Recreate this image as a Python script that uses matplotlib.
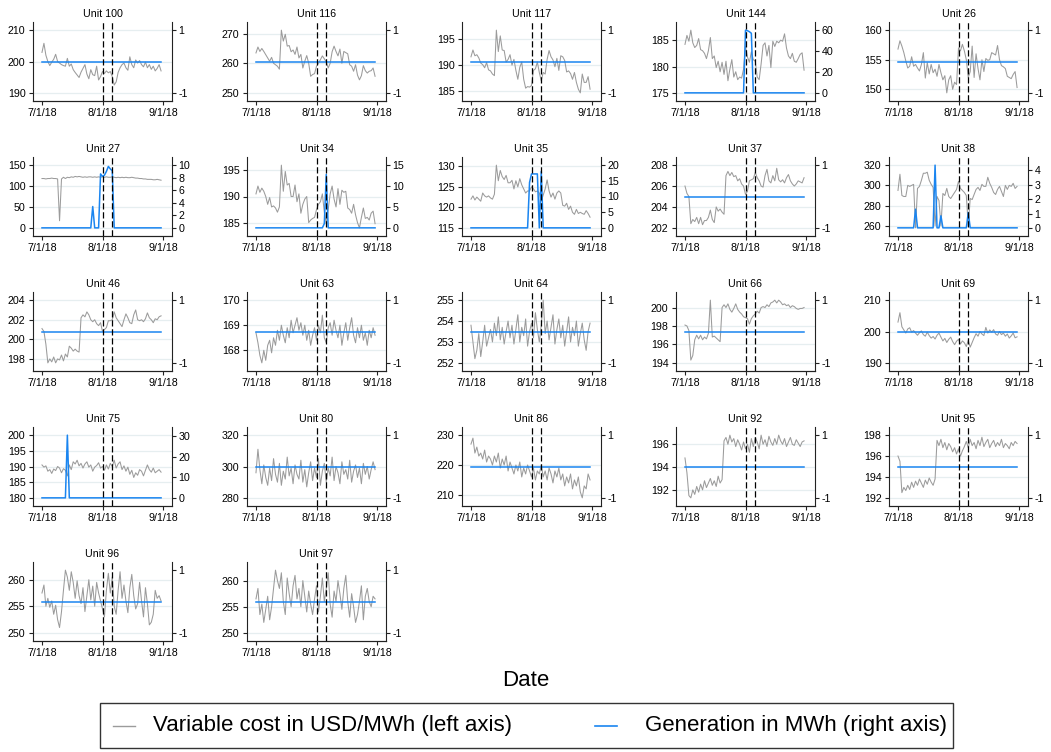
import numpy as np
import pandas as pd
import matplotlib
matplotlib.use("Agg")
import matplotlib.pyplot as plt
from matplotlib.lines import Line2D
from matplotlib.patches import Rectangle

plt.rcParams['font.family'] = ['Liberation Sans', 'DejaVu Sans']
plt.rcParams['axes.unicode_minus'] = False

# fechas y eventos
start = pd.Timestamp('2018-07-01')
event_dates = [pd.Timestamp('2018-08-01'), pd.Timestamp('2018-08-06')]
xtick_dates = [pd.Timestamp('2018-07-01'), pd.Timestamp('2018-08-01'), pd.Timestamp('2018-09-01')]
xtick_labels = ['7/1/18', '8/1/18', '9/1/18']

units = ['100', '116', '117', '144', '26', '27', '34', '35', '37', '38',
         '46', '63', '64', '66', '69', '75', '80', '86', '92', '95', '96', '97']

# costo variable (USD/MWh), un valor por dia del 7/1 al 8/31
cost_100 = [202.9, 205.8, 202.0, 200.0, 198.7, 199.8, 200.7, 202.3, 200.0, 199.5, 199.0, 198.7, 198.5, 201.0, 198.5, 199.2, 197.4, 196.5, 195.7, 194.9, 196.6, 197.8, 199.0, 196.0, 194.5, 197.4, 195.8, 195.5, 198.5, 194.1, 195.2, 196.8, 196.2, 197.0, 196.4, 196.8, 195.2, 192.5, 193.5, 196.5, 198.0, 199.0, 199.5, 198.0, 197.2, 201.5, 199.0, 198.0, 200.5, 199.5, 200.3, 199.0, 198.3, 199.8, 198.0, 199.0, 197.5, 198.5, 197.0, 197.8, 199.0, 197.0]
cost_116 = [263.5, 265.5, 264.0, 265.0, 264.0, 262.9, 261.8, 260.7, 262.0, 260.0, 259.5, 259.0, 258.0, 271.2, 267.5, 269.8, 265.8, 266.0, 263.9, 264.5, 263.0, 265.5, 261.8, 263.0, 258.4, 260.7, 262.6, 260.0, 255.6, 256.2, 256.5, 259.0, 260.0, 261.2, 262.5, 261.5, 260.5, 258.4, 260.0, 263.9, 265.8, 264.0, 262.5, 264.8, 260.0, 264.0, 263.6, 263.2, 259.5, 259.0, 257.3, 259.5, 256.0, 254.4, 255.8, 259.2, 257.5, 256.7, 257.3, 257.5, 258.4, 255.6]
cost_117 = [191.5, 192.8, 191.7, 191.9, 191.3, 190.3, 190.0, 189.4, 190.4, 189.0, 188.8, 188.2, 187.9, 196.6, 192.5, 195.5, 192.8, 192.7, 190.5, 191.0, 191.9, 189.9, 191.0, 188.9, 187.2, 189.5, 190.5, 187.2, 185.5, 185.8, 185.7, 186.0, 188.9, 189.2, 190.5, 188.5, 186.9, 188.5, 188.2, 191.0, 192.7, 191.5, 190.9, 189.6, 191.2, 188.9, 191.7, 191.5, 190.8, 188.6, 188.8, 188.3, 187.2, 188.5, 186.6, 185.3, 184.6, 188.2, 186.6, 186.6, 187.7, 185.3]
cost_144 = [184.2, 185.9, 184.8, 186.9, 184.5, 183.6, 184.0, 185.3, 183.2, 183.0, 182.5, 181.5, 183.0, 185.5, 181.5, 182.0, 179.8, 181.0, 179.0, 180.8, 178.5, 181.0, 177.3, 179.5, 181.3, 178.0, 179.0, 177.5, 178.0, 177.8, 179.5, 183.8, 181.8, 180.8, 182.8, 181.3, 181.0, 178.0, 177.5, 180.5, 184.0, 184.5, 182.0, 184.0, 179.8, 184.8, 183.8, 184.8, 184.5, 185.0, 184.8, 186.2, 183.5, 182.0, 181.5, 182.5, 181.0, 180.8, 181.5, 182.3, 182.6, 179.3]
cost_26 = [156.8, 158.2, 157.3, 156.2, 154.8, 153.6, 153.9, 155.5, 153.9, 154.2, 153.6, 153.1, 154.2, 156.2, 151.9, 154.5, 152.6, 154.2, 152.8, 153.4, 152.2, 154.2, 152.8, 151.6, 152.3, 149.4, 151.6, 152.3, 150.0, 151.2, 150.8, 157.0, 156.5, 157.6, 156.5, 155.0, 152.0, 153.0, 157.3, 152.0, 156.0, 153.5, 151.6, 155.0, 153.0, 155.2, 154.9, 155.0, 156.2, 156.0, 155.8, 157.4, 155.0, 154.0, 153.8, 153.5, 152.2, 152.0, 151.8, 152.5, 153.0, 150.3]
cost_27 = [118, 118, 117, 118, 118, 119, 118, 118, 117, 17, 117, 121, 118, 121, 120, 122, 121, 123, 122, 123, 122, 121, 122, 121, 122, 122, 121, 122, 121, 122, 121, 122, 121, 122, 121, 121, 122, 121, 120, 121, 120, 121, 120, 121, 120, 120, 121, 120, 119, 119, 118, 118, 117, 117, 116, 116, 116, 115, 115, 116, 115, 114]
cost_34 = [190.5, 192.0, 190.8, 191.6, 191.0, 190.0, 188.5, 189.8, 188.0, 188.2, 187.8, 187.0, 188.0, 196.0, 191.0, 194.8, 192.2, 192.5, 190.0, 190.0, 192.2, 189.0, 190.5, 186.8, 188.5, 189.5, 190.0, 185.0, 185.5, 185.8, 186.0, 187.5, 188.5, 189.0, 190.5, 187.0, 184.8, 187.5, 190.5, 192.0, 189.5, 188.0, 191.5, 188.5, 191.2, 190.8, 191.0, 187.8, 187.5, 186.8, 188.5, 186.5, 185.0, 184.0, 186.0, 187.8, 185.8, 186.0, 185.5, 186.8, 187.2, 184.8]
cost_35 = [122.0, 122.8, 121.8, 122.5, 122.0, 121.5, 123.5, 122.8, 122.5, 122.8, 122.3, 122.0, 123.2, 130.3, 126.5, 129.0, 127.5, 126.8, 127.8, 126.0, 126.0, 126.6, 124.5, 126.5, 125.0, 127.0, 125.5, 124.5, 123.5, 124.0, 124.0, 125.0, 124.5, 123.8, 124.0, 123.5, 121.5, 123.0, 124.5, 126.7, 124.0, 122.5, 123.5, 122.0, 123.5, 124.0, 123.5, 120.5, 120.3, 121.0, 119.5, 120.3, 118.8, 118.3, 119.5, 118.5, 118.8, 118.5, 118.3, 119.2, 118.5, 117.6]
cost_37 = [206.0, 205.3, 205.0, 202.4, 202.8, 202.6, 203.0, 202.4, 203.0, 202.3, 202.7, 202.7, 203.0, 203.7, 202.8, 202.5, 204.0, 203.6, 203.8, 203.5, 203.3, 207.0, 207.4, 207.0, 207.3, 206.9, 207.0, 206.5, 206.7, 206.2, 206.0, 205.2, 205.5, 206.5, 206.6, 206.7, 207.3, 206.8, 206.5, 206.0, 205.9, 207.0, 207.6, 206.5, 206.3, 207.0, 206.5, 207.7, 206.6, 206.4, 206.6, 206.3, 206.8, 207.1, 206.5, 206.2, 206.0, 206.2, 206.5, 206.4, 206.3, 206.8]
cost_38 = [295, 311, 290, 289, 289, 300, 299, 300, 301, 258, 297, 299, 305, 312, 312, 313, 305, 301, 298, 260, 289, 285, 260, 292, 290, 297, 289, 287, 290, 293, 296, 304, 297, 295, 293, 290, 260, 287, 286, 291, 296, 298, 295, 301, 299, 299, 308, 302, 298, 293, 291, 296, 299, 294, 289, 300, 296, 300, 299, 302, 297, 299]
cost_46 = [201.1, 200.8, 199.5, 197.6, 198.0, 197.7, 198.2, 197.6, 198.0, 197.9, 198.4, 197.8, 198.5, 198.2, 199.3, 199.1, 198.8, 199.0, 198.8, 198.7, 202.2, 202.5, 202.3, 202.8, 202.5, 202.0, 201.8, 202.0, 201.6, 201.4, 201.7, 200.8, 201.0, 201.2, 201.9, 201.9, 202.0, 202.8, 202.2, 201.9, 201.6, 201.3, 202.0, 202.6, 202.2, 201.7, 201.6, 202.5, 203.0, 202.0, 201.9, 202.0, 201.8, 202.1, 202.7, 202.2, 202.0, 201.7, 202.1, 202.0, 202.3, 202.4]
cost_63 = [168.7, 168.3, 167.8, 167.5, 168.0, 167.6, 168.2, 168.4, 167.9, 168.5, 168.2, 168.8, 168.4, 169.0, 168.6, 168.3, 168.9, 168.5, 169.2, 168.7, 169.0, 169.3, 168.8, 169.1, 168.6, 169.0, 168.4, 168.8, 168.2, 168.6, 168.9, 168.4, 169.0, 168.7, 169.4, 168.5, 168.3, 168.9, 169.1, 168.6, 169.2, 168.8, 168.5, 169.0, 168.2, 168.7, 169.1, 168.4, 168.9, 169.3, 168.6, 168.3, 168.9, 168.5, 169.0, 168.4, 168.7, 168.2, 168.8, 168.5, 168.9, 168.6]
cost_64 = [253.8, 253.0, 252.2, 252.6, 253.4, 252.3, 253.0, 253.8, 252.8, 253.2, 253.6, 253.0, 253.9, 253.3, 254.2, 253.1, 253.7, 252.9, 253.5, 254.0, 253.2, 253.8, 252.9, 253.6, 254.3, 253.0, 253.7, 253.3, 254.1, 252.8, 253.5, 253.9, 253.2, 254.4, 253.6, 253.0, 253.8, 255.0, 253.4, 254.0, 253.1, 253.7, 254.3, 252.9, 253.6, 254.1, 253.2, 253.8, 252.8, 253.5, 254.2, 253.0, 253.7, 253.3, 254.0, 252.8, 253.4, 253.9, 253.1, 252.6, 253.5, 253.9]
cost_66 = [198.1, 198.0, 197.5, 194.3, 194.8, 196.5, 197.0, 196.6, 197.0, 196.5, 196.8, 196.6, 197.2, 200.8, 196.8, 196.9, 196.7, 196.5, 196.3, 200.0, 200.3, 200.0, 200.4, 199.8, 199.5, 199.9, 200.4, 199.8, 199.5, 199.3, 199.0, 198.9, 198.8, 198.2, 198.8, 199.1, 199.3, 199.6, 199.4, 200.0, 200.1, 200.0, 200.3, 200.1, 200.5, 200.6, 200.8, 200.5, 200.8, 200.6, 200.3, 200.4, 200.2, 200.3, 200.0, 200.2, 200.1, 199.9, 199.8, 199.9, 199.9, 200.0]
cost_69 = [203.0, 206.0, 201.5, 200.5, 199.5, 200.8, 201.2, 199.8, 200.3, 199.5, 198.8, 199.6, 200.2, 199.0, 198.5, 199.8, 198.7, 197.9, 198.4, 197.6, 198.8, 199.5, 198.2, 197.0, 197.8, 196.5, 197.5, 198.2, 196.8, 195.8, 196.9, 197.5, 196.0, 197.0, 196.4, 195.2, 197.2, 195.0, 196.5, 198.0, 199.3, 198.5, 200.0, 199.2, 198.7, 201.3, 199.5, 200.5, 199.8, 200.6, 199.2, 198.8, 200.0, 199.0, 199.5, 198.5, 199.2, 197.9, 198.6, 199.5, 198.0, 198.3]
cost_75 = [190.5, 189.8, 190.2, 188.5, 189.0, 187.8, 189.2, 188.7, 190.0, 189.5, 188.0, 189.3, 188.8, 187.0, 190.5, 189.0, 191.5, 190.8, 192.0, 190.2, 191.0, 189.5, 190.8, 191.5, 189.8, 190.5, 188.5, 189.8, 190.3, 191.2, 189.5, 190.0, 188.8, 190.5, 189.2, 191.0, 190.0, 192.0, 189.5, 190.8, 191.5, 189.0, 190.2, 188.5, 189.8, 187.5, 188.8, 186.5, 188.0, 187.2, 189.0, 188.5, 187.0, 188.8, 190.5, 189.0, 188.2, 189.5, 188.0, 188.5, 189.0, 188.2]
cost_80 = [296, 311, 298, 289, 301, 293, 288, 299, 291, 305, 295, 290, 302, 288, 297, 292, 306, 294, 299, 289, 301, 295, 292, 304, 290, 298, 287, 296, 303, 291, 299, 293, 305, 288, 297, 302, 290, 299, 294, 306, 291, 300, 296, 289, 303, 295, 298, 292, 304, 290, 297, 301, 293, 299, 289, 302, 295, 300, 292, 298, 303, 298]
cost_86 = [227, 229, 224, 226, 223, 224, 222, 225, 221, 223, 222, 220, 223, 221, 224, 219, 222, 220, 223, 218, 221, 219, 217, 220, 218, 221, 216, 219, 217, 220, 218, 216, 219, 215, 218, 217, 220, 216, 218, 215, 219, 217, 214, 218, 216, 219, 215, 217, 213, 216, 214, 217, 212, 215, 213, 216, 211, 209, 213, 212, 217, 215]
cost_92 = [194.8, 193.5, 191.5, 191.3, 192.0, 191.6, 192.3, 191.8, 192.5, 192.0, 192.8, 192.2, 192.6, 193.0, 192.4, 192.8, 192.3, 193.2, 192.6, 192.9, 196.3, 196.6, 196.0, 196.8, 196.2, 196.5, 195.8, 196.4, 196.0, 195.5, 196.2, 195.6, 196.0, 195.3, 196.5, 195.8, 196.6, 196.2, 195.6, 196.8, 196.0, 196.4, 195.8, 196.7, 196.2, 195.9, 196.5, 196.0, 196.8, 196.3, 196.0, 196.5, 195.8, 196.2, 196.6, 196.0, 195.9, 196.4, 196.1, 195.8, 196.2, 196.3]
cost_95 = [196.0, 195.5, 192.5, 193.0, 192.7, 193.2, 192.8, 193.5, 193.0, 193.6, 193.2, 193.8, 193.4, 193.0, 193.7, 193.3, 193.9, 193.5, 193.2, 193.8, 197.5, 197.0, 197.6, 196.8, 197.3, 196.6, 197.2, 196.9, 196.4, 196.8, 196.2, 196.7, 196.0, 196.5, 196.9, 197.4, 196.8, 197.6, 197.0, 197.3, 196.7, 197.5, 197.0, 197.8, 196.9, 197.3, 197.6, 196.8, 197.2, 197.5, 196.9, 197.3, 197.0, 197.6, 196.8, 197.2, 197.0, 196.7, 197.3, 197.0, 197.4, 197.2]
cost_96 = [257.5, 259.0, 255.0, 256.5, 254.8, 256.0, 253.5, 255.2, 252.5, 251.0, 254.0, 258.0, 261.8, 260.5, 258.0, 261.5, 259.5, 256.5, 259.8, 257.0, 255.5, 258.5, 254.0, 257.0, 260.0, 256.2, 258.8, 255.0, 259.5, 257.5, 256.0, 254.5, 253.0, 258.0, 261.2, 257.5, 260.5, 255.0, 253.5, 258.0, 261.5, 256.5, 259.0, 256.0, 253.8, 258.5, 261.0, 257.0, 254.5, 255.5, 259.5, 256.0, 253.0, 258.5, 255.5, 251.5, 252.0, 253.5, 258.0, 256.5, 257.0, 256.0]
cost_97 = [256.5, 258.5, 253.5, 255.5, 252.0, 254.5, 257.0, 252.5, 255.0, 258.5, 262.0, 260.0, 258.5, 261.5, 256.0, 253.5, 260.5, 257.5, 255.0, 259.0, 261.0, 256.5, 258.5, 255.0, 260.0, 257.0, 254.0, 258.0, 255.5, 253.5, 256.5, 259.0, 254.0, 257.0, 260.5, 256.0, 258.5, 261.5, 255.5, 253.0, 258.0, 256.0, 260.0, 257.5, 254.5, 258.5, 261.0, 256.0, 253.0, 257.5, 255.0, 252.0, 253.5, 256.0, 259.0, 252.5, 257.0, 258.5, 256.0, 255.0, 257.0, 256.5]

# generacion (MWh)
gen_zero = [0, 0, 0, 0, 0, 0, 0, 0, 0, 0, 0, 0, 0, 0, 0, 0, 0, 0, 0, 0, 0, 0, 0, 0, 0, 0, 0, 0, 0, 0, 0, 0, 0, 0, 0, 0, 0, 0, 0, 0, 0, 0, 0, 0, 0, 0, 0, 0, 0, 0, 0, 0, 0, 0, 0, 0, 0, 0, 0, 0, 0, 0]
gen_144 = [0, 0, 0, 0, 0, 0, 0, 0, 0, 0, 0, 0, 0, 0, 0, 0, 0, 0, 0, 0, 0, 0, 0, 0, 0, 0, 0, 0, 0, 0, 0, 60, 59.5, 58.5, 57, 0, 0, 0, 0, 0, 0, 0, 0, 0, 0, 0, 0, 0, 0, 0, 0, 0, 0, 0, 0, 0, 0, 0, 0, 0, 0, 0]
gen_27 = [0, 0, 0, 0, 0, 0, 0, 0, 0, 0, 0, 0, 0, 0, 0, 0, 0, 0, 0, 0, 0, 0, 0, 0, 0, 0, 3.4, 0, 0, 0, 8.6, 8.2, 8.4, 9.0, 9.8, 9.4, 9.1, 0, 0, 0, 0, 0, 0, 0, 0, 0, 0, 0, 0, 0, 0, 0, 0, 0, 0, 0, 0, 0, 0, 0, 0, 0]
gen_34 = [0, 0, 0, 0, 0, 0, 0, 0, 0, 0, 0, 0, 0, 0, 0, 0, 0, 0, 0, 0, 0, 0, 0, 0, 0, 0, 0, 0, 0, 0, 0, 0, 0, 0, 0, 1.0, 12.8, 0, 0, 0, 0, 0, 0, 0, 0, 0, 0, 0, 0, 0, 0, 0, 0, 0, 0, 0, 0, 0, 0, 0, 0, 0]
gen_35 = [0, 0, 0, 0, 0, 0, 0, 0, 0, 0, 0, 0, 0, 0, 0, 0, 0, 0, 0, 0, 0, 0, 0, 0, 0, 0, 0, 0, 0, 0, 14.5, 17.2, 17.2, 17.2, 17.2, 0, 18.0, 0, 0, 0, 0, 0, 0, 0, 0, 0, 0, 0, 0, 0, 0, 0, 0, 0, 0, 0, 0, 0, 0, 0, 0, 0]
gen_38 = [0, 0, 0, 0, 0, 0, 0, 0, 0, 1.3, 0, 0, 0, 0, 0, 0, 0, 0, 0, 4.37, 0, 0, 0.84, 0, 0, 0, 0, 0, 0, 0, 0, 0, 0, 0, 0, 0, 1.07, 0, 0, 0, 0, 0, 0, 0, 0, 0, 0, 0, 0, 0, 0, 0, 0, 0, 0, 0, 0, 0, 0, 0, 0, 0]
gen_75 = [0, 0, 0, 0, 0, 0, 0, 0, 0, 0, 0, 0, 0, 30.5, 0, 0, 0, 0, 0, 0, 0, 0, 0, 0, 0, 0, 0, 0, 0, 0, 0, 0, 0, 0, 0, 0, 0, 0, 0, 0, 0, 0, 0, 0, 0, 0, 0, 0, 0, 0, 0, 0, 0, 0, 0, 0, 0, 0, 0, 0, 0, 0]

# marcas de los ejes
left_ticks = {
    '100': [190, 200, 210], '116': [250, 260, 270], '117': [185, 190, 195],
    '144': [175, 180, 185], '26': [150, 155, 160], '27': [0, 50, 100, 150],
    '34': [185, 190, 195], '35': [115, 120, 125, 130], '37': [202, 204, 206, 208],
    '38': [260, 280, 300, 320], '46': [198, 200, 202, 204], '63': [168, 169, 170],
    '64': [252, 253, 254, 255], '66': [194, 196, 198, 200], '69': [190, 200, 210],
    '75': [180, 185, 190, 195, 200], '80': [280, 300, 320], '86': [210, 220, 230],
    '92': [192, 194, 196], '95': [192, 194, 196, 198], '96': [250, 255, 260],
    '97': [250, 255, 260],
}
right_ticks = {'144': [0, 20, 40, 60], '27': [0, 2, 4, 6, 8, 10], '34': [0, 5, 10, 15],
               '35': [0, 5, 10, 15, 20], '38': [0, 1, 2, 3, 4], '75': [0, 10, 20, 30]}

costs = {'100': cost_100, '116': cost_116, '117': cost_117, '144': cost_144, '26': cost_26,
         '27': cost_27, '34': cost_34, '35': cost_35, '37': cost_37, '38': cost_38,
         '46': cost_46, '63': cost_63, '64': cost_64, '66': cost_66, '69': cost_69,
         '75': cost_75, '80': cost_80, '86': cost_86, '92': cost_92, '95': cost_95,
         '96': cost_96, '97': cost_97}
gens = {'144': gen_144, '27': gen_27, '34': gen_34, '35': gen_35, '38': gen_38, '75': gen_75}

GRAY = '#9b9b9b'
BLUE = '#1a85f0'
GRID = '#e6eef0'
W, H = 1051, 752

fig = plt.figure(figsize=(W / 100, H / 100), dpi=100)

col_x = [33, 247, 462, 676, 889]
row_y = [22, 157, 292, 427, 562]
ax_w, ax_h = 139, 79


def padded(vals, ticks, pad=0.13):
    lo = min(min(vals), min(ticks))
    hi = max(max(vals), max(ticks))
    r = hi - lo
    return lo - pad * r, hi + pad * r


for i, u in enumerate(units):
    r, c = divmod(i, 5)
    x0, y0 = col_x[c], row_y[r]
    ax = fig.add_axes([x0 / W, 1 - (y0 + ax_h) / H, ax_w / W, ax_h / H])
    ax2 = ax.twinx()

    cost = costs[u]
    gen = gens.get(u, gen_zero)
    dates = pd.date_range(start, periods=len(cost), freq='D')
    gdates = pd.date_range(start, periods=len(gen), freq='D')

    lt = left_ticks[u]
    rt = right_ticks.get(u, [-1, 1])

    ax.plot(dates, cost, color=GRAY, lw=0.75, zorder=3)
    ax.set_ylim(*padded(cost, lt))
    ax.set_yticks(lt)
    for t in lt:
        ax.axhline(t, color=GRID, lw=0.9, zorder=1)

    ax2.plot(gdates, gen, color=BLUE, lw=1.1, zorder=3)
    ax2.set_ylim(*padded(gen, rt))
    ax2.set_yticks(rt)
    for d in event_dates:
        ax2.axvline(d, color='black', lw=0.9, dashes=(5, 2.2), zorder=5)

    ax.set_xlim(start - pd.Timedelta(days=4.6), xtick_dates[-1] + pd.Timedelta(days=4.6))
    ax.set_xticks(xtick_dates)
    ax.set_xticklabels(xtick_labels)

    for a in (ax, ax2):
        a.spines['top'].set_visible(False)
        for s in ('left', 'right', 'bottom'):
            a.spines[s].set_color('#222222')
            a.spines[s].set_linewidth(0.8)
        a.tick_params(labelsize=7.7, length=3.2, width=0.8, pad=1.6, color='#222222')
    ax.tick_params(axis='y', pad=2.2)
    ax.spines['right'].set_visible(False)
    ax2.spines['left'].set_visible(False)
    ax.set_title('Unit ' + u, fontsize=7.7, pad=3.5)

# titulo del eje x y leyenda
fig.text(526 / W, 1 - 681 / H, 'Date', ha='center', va='center', fontsize=16)

fig.add_artist(Rectangle((100 / W, 1 - 748 / H), 853 / W, 45 / H, transform=fig.transFigure,
                         fill=False, edgecolor='#333333', lw=1.0))
ly = 1 - 726 / H
fig.add_artist(Line2D([113 / W, 135 / W], [ly, ly], color=GRAY, lw=1.0))
fig.text(153 / W, ly, 'Variable cost in USD/MWh (left axis)', va='center', fontsize=16)
fig.add_artist(Line2D([595 / W, 617 / W], [ly, ly], color=BLUE, lw=1.2))
fig.text(645 / W, ly, 'Generation in MWh (right axis)', va='center', fontsize=16)

fig.savefig('out.png', dpi=100)
